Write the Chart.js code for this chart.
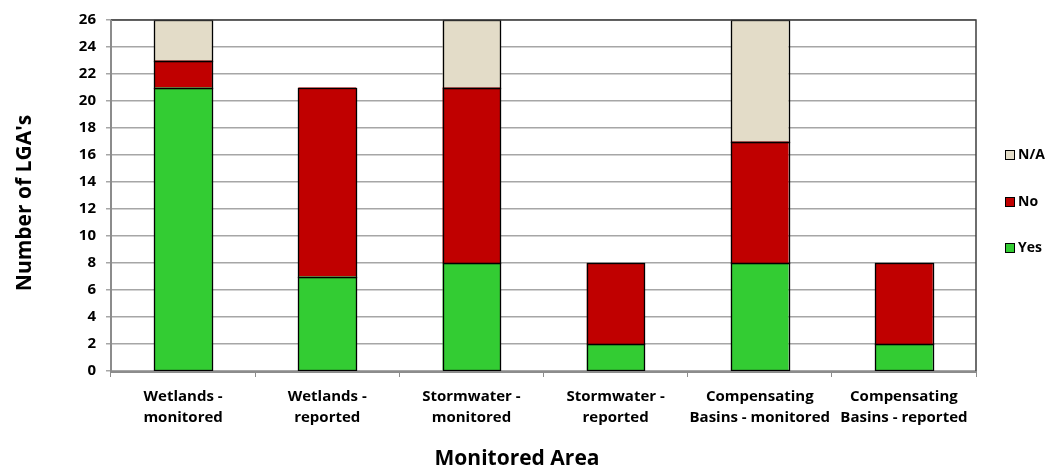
<!DOCTYPE html>
<html>
<head>
<meta charset="utf-8">
<script src="https://cdn.jsdelivr.net/npm/chart.js@4.4.1/dist/chart.umd.min.js"></script>
<style>
  html, body { margin: 0; padding: 0; background: #ffffff; }
  #wrap { width: 1046px; height: 469px; }
</style>
</head>
<body>
<div id="wrap"><canvas id="chart" width="1046" height="469"></canvas></div>
<script>
// Monitoring and reporting of water areas by local government areas
const categories = [
  ['Wetlands -', 'monitored'],
  ['Wetlands -', 'reported'],
  ['Stormwater -', 'monitored'],
  ['Stormwater -', 'reported'],
  ['Compensating', 'Basins - monitored'],
  ['Compensating', 'Basins - reported']
];
const yesValues = [21, 7, 8, 2, 8, 2];
const noValues  = [2, 14, 13, 6, 9, 6];
const naValues  = [3, 0, 5, 0, 9, 0];

const xTitle = 'Monitored Area';
const yTitle = "Number of LGA's";

const FONT = '"Open Sans", "Noto Sans", "DejaVu Sans", sans-serif';

// Legend drawn at the right of the plot, listed top-down as N/A, No, Yes
const sideLegend = {
  id: 'sideLegend',
  afterDraw(chart) {
    const ctx = chart.ctx;
    const rows = [155, 202, 248];
    const sets = chart.data.datasets.slice().reverse();
    ctx.save();
    ctx.font = 'bold 14px ' + FONT;
    ctx.textBaseline = 'middle';
    ctx.textAlign = 'left';
    sets.forEach((ds, i) => {
      const y = rows[i];
      ctx.fillStyle = ds.backgroundColor;
      ctx.fillRect(1005, y - 5, 10, 10);
      ctx.strokeStyle = '#000000';
      ctx.lineWidth = 1;
      ctx.strokeRect(1005.5, y - 4.5, 9, 9);
      ctx.fillStyle = '#000000';
      ctx.fillText(ds.label, 1018, y);
    });
    ctx.restore();
  }
};

// Axis titles
const axisTitles = {
  id: 'axisTitles',
  afterDraw(chart) {
    const ctx = chart.ctx;
    ctx.save();
    ctx.fillStyle = '#000000';
    ctx.font = 'bold 21px ' + FONT;
    ctx.textAlign = 'center';
    ctx.textBaseline = 'middle';
    ctx.fillText(xTitle, 517, 459);
    ctx.translate(25, 203);
    ctx.rotate(-Math.PI / 2);
    ctx.fillText(yTitle, 0, 0);
    ctx.restore();
  }
};

// Single black outline round every stacked segment, plus the plot frame
const outlines = {
  id: 'outlines',
  afterDatasetsDraw(chart) {
    const ctx = chart.ctx;
    const a = chart.chartArea;
    ctx.save();
    ctx.strokeStyle = '#000000';
    ctx.lineWidth = 1.3;
    chart.data.datasets.forEach((ds, di) => {
      chart.getDatasetMeta(di).data.forEach(bar => {
        const top = Math.min(bar.y, bar.base);
        const bottom = Math.max(bar.y, bar.base);
        if (bottom - top < 0.5) return;
        const left = Math.round(bar.x - bar.width / 2) + 0.5;
        const right = Math.round(bar.x + bar.width / 2) + 0.5;
        ctx.strokeRect(left, Math.round(top) + 0.5, right - left, Math.round(bottom) - Math.round(top));
      });
    });
    ctx.strokeStyle = '#3f3f3f';
    ctx.lineWidth = 1.5;
    ctx.beginPath();
    ctx.moveTo(a.left, a.top);
    ctx.lineTo(a.right, a.top);
    ctx.lineTo(a.right, a.bottom);
    ctx.stroke();
    ctx.strokeStyle = '#8c8c8c';
    ctx.lineWidth = 2;
    ctx.beginPath();
    ctx.moveTo(a.left, a.top);
    ctx.lineTo(a.left, a.bottom + 1);
    ctx.lineTo(a.right, a.bottom + 1);
    ctx.stroke();
    ctx.restore();
  }
};

new Chart(document.getElementById('chart'), {
  type: 'bar',
  data: {
    labels: categories,
    datasets: [
      { label: 'Yes', data: yesValues, backgroundColor: '#33CC33' },
      { label: 'No',  data: noValues,  backgroundColor: '#C00000' },
      { label: 'N/A', data: naValues,  backgroundColor: '#E3DCC8' }
    ].map(d => Object.assign(d, {
      borderWidth: 0,
      barPercentage: 0.4,
      categoryPercentage: 1
    }))
  },
  options: {
    responsive: false,
    devicePixelRatio: 1,
    animation: false,
    layout: { padding: { top: 20, right: 70, bottom: 0, left: 0 } },
    plugins: {
      legend: { display: false },
      tooltip: { enabled: false }
    },
    scales: {
      x: {
        stacked: true,
        afterFit(scale) { scale.height = 98; },
        grid: {
          offset: true,
          drawOnChartArea: false,
          drawTicks: true,
          tickLength: 6,
          color: '#8c8c8c',
          lineWidth: 1
        },
        border: { display: false },
        ticks: {
          color: '#000000',
          padding: 9,
          maxRotation: 0,
          autoSkip: false,
          font: { family: FONT, size: 15, weight: 'bold', lineHeight: 1.4 }
        }
      },
      y: {
        stacked: true,
        min: 0,
        max: 26,
        afterFit(scale) { scale.width = 111; },
        grid: {
          color: '#a6a6a6',
          lineWidth: 1.5,
          drawTicks: true,
          tickLength: 5
        },
        border: { display: false },
        ticks: {
          stepSize: 2,
          color: '#000000',
          padding: 10,
          font: { family: FONT, size: 15, weight: 'bold' }
        }
      }
    }
  },
  plugins: [sideLegend, axisTitles, outlines]
});
</script>
</body>
</html>
